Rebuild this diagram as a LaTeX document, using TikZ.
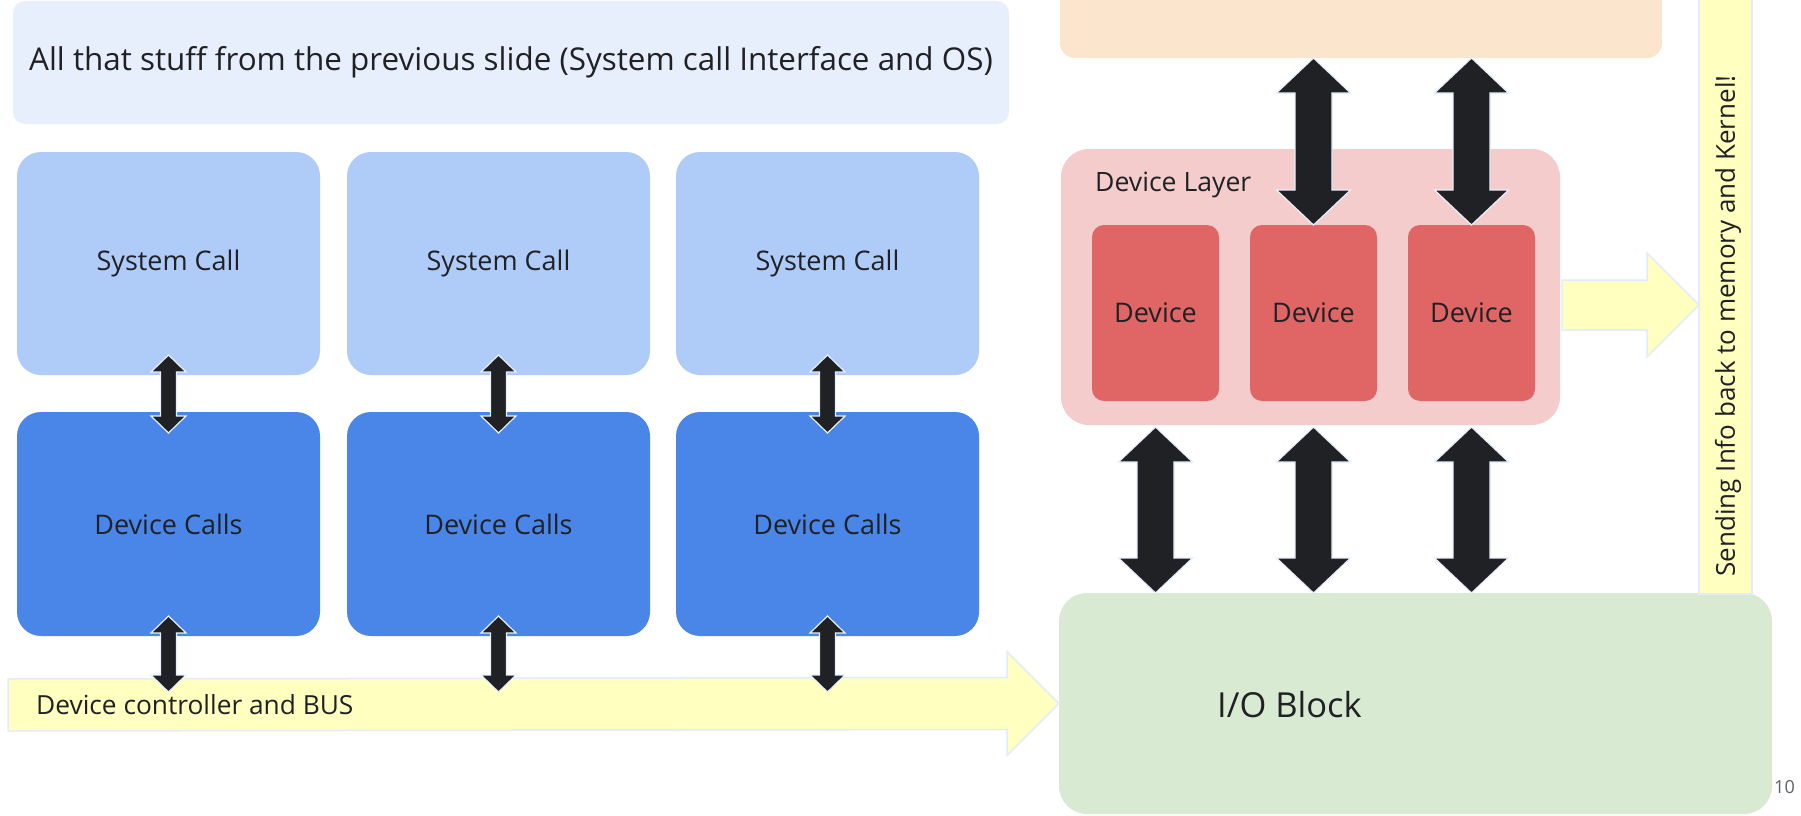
\documentclass[tikz,border=0pt]{standalone}
\usepackage{fontspec}
\setmainfont{Open Sans}
\usetikzlibrary{calc}
\definecolor{topbox}{HTML}{E8EFFC}
\definecolor{sysbox}{HTML}{AFCBF8}
\definecolor{devcall}{HTML}{4A86E8}
\definecolor{yel}{HTML}{FFFFC0}
\definecolor{yeledge}{HTML}{E3ECF9}
\definecolor{orangebox}{HTML}{FCE5CD}
\definecolor{layerbox}{HTML}{F4CCCC}
\definecolor{devbox}{HTML}{E06666}
\definecolor{iobox}{HTML}{D9EAD3}
\definecolor{blk}{HTML}{202124}
\definecolor{blkedge}{HTML}{E8F0FE}
\definecolor{txt}{HTML}{202124}
\definecolor{pagegray}{HTML}{5F6368}
\newcommand\dblarr[5]{%
\filldraw[blkarrow] (#1) -- ([xshift=#4,yshift=-#5]#1) -- ([xshift=#3,yshift=-#5]#1) -- ([xshift=#3,yshift=#5]#2) -- ([xshift=#4,yshift=#5]#2) -- (#2) -- ([xshift=-#4,yshift=#5]#2) -- ([xshift=-#3,yshift=#5]#2) -- ([xshift=-#3,yshift=-#5]#1) -- ([xshift=-#4,yshift=-#5]#1) -- cycle;}
\begin{document}
\begin{tikzpicture}[x=1pt,y=-1pt,
  box/.style={anchor=north west, inner sep=0pt, outer sep=0pt, text=txt, align=center},
  blkarrow/.style={fill=blk, draw=blkedge, line width=1.2pt, line join=miter},
  yelarrow/.style={fill=yel, draw=yeledge, line width=1.5pt},
  mid/.style={font=\fontsize{27}{32}\selectfont}]
\useasboundingbox (0,0) rectangle (1801,816);
\clip (0,0) rectangle (1801,816);
\fill[white] (0,0) rectangle (1801,816);

% top box
\node[box, fill=topbox, rounded corners=12pt, minimum width=996pt, minimum height=123pt,
  font=\fontsize{31.4}{36}\selectfont] (top) at (13,1) {All that stuff from the previous slide (System call Interface and OS)};

% system call boxes
\node[box, fill=sysbox, rounded corners=24pt, minimum width=303pt, minimum height=223pt, mid] (sc1) at (17,152) {System Call};
\node[box, fill=sysbox, rounded corners=24pt, minimum width=303pt, minimum height=223pt, mid] (sc2) at (347,152) {System Call};
\node[box, fill=sysbox, rounded corners=24pt, minimum width=303pt, minimum height=223pt, mid] (sc3) at (676,152) {System Call};

% device call boxes
\node[box, fill=devcall, rounded corners=24pt, minimum width=303pt, minimum height=224pt, mid] (dc1) at (17,412) {Device Calls};
\node[box, fill=devcall, rounded corners=24pt, minimum width=303pt, minimum height=224pt, mid] (dc2) at (347,412) {Device Calls};
\node[box, fill=devcall, rounded corners=24pt, minimum width=303pt, minimum height=224pt, mid] (dc3) at (676,412) {Device Calls};

% orange box (cut at top)
\node[box, fill=orangebox, rounded corners=15pt, minimum width=602pt, minimum height=98pt] (mem) at (1060,-40) {};

% device layer
\node[box, fill=layerbox, rounded corners=28pt, minimum width=499pt, minimum height=276pt] (layer) at (1061,149) {};
\node[anchor=west, inner sep=0pt, text=txt, font=\fontsize{26.6}{32}\selectfont] (layerlbl) at (1095,185) {Device Layer};
\node[box, fill=devbox, rounded corners=12pt, minimum width=127pt, minimum height=176pt, mid] (dev1) at (1092,225) {Device};
\node[box, fill=devbox, rounded corners=12pt, minimum width=127pt, minimum height=176pt, mid] (dev2) at (1250,225) {Device};
\node[box, fill=devbox, rounded corners=12pt, minimum width=127pt, minimum height=176pt, mid] (dev3) at (1408,225) {Device};

% I/O block
\node[box, fill=iobox, rounded corners=28pt, minimum width=713pt, minimum height=221pt] (io) at (1059,593) {};
\node[anchor=west, inner sep=0pt, text=txt, font=\fontsize{34.5}{40}\selectfont] (iolbl) at (1217,705) {I/O Block};

% vertical bar
\node[box, fill=yel, draw=yeledge, line width=1.5pt, minimum width=53pt, minimum height=614pt] (vbar) at (1699,-20) {};
\node[rotate=90, inner sep=0pt, text=txt, font=\fontsize{26}{31}\selectfont] (vbarlbl) at (1728,326) {Sending Info back to memory and Kernel!};

% page number
\node[anchor=east, inner sep=0pt, text=pagegray, font=\fontsize{18}{20}\selectfont] (pnum) at (1795,787) {10};

% bus arrow
\coordinate (bustail) at (8,705);
\coordinate (bustip) at (io.west);
\filldraw[yelarrow] ([yshift=26]bustail) -- ([xshift=-52,yshift=26]bustip) -- ([xshift=-52,yshift=52]bustip) -- (bustip)
  -- ([xshift=-52,yshift=-52]bustip) -- ([xshift=-52,yshift=-26]bustip) -- ([yshift=-26]bustail) -- cycle;
\node[anchor=west, inner sep=0pt, text=txt, font=\fontsize{26.3}{31}\selectfont] (buslbl) at (36,705) {Device controller and BUS};

% right arrow
\coordinate (rtail) at ([xshift=2,yshift=-18]layer.east);
\coordinate (rtip) at (vbar.west |- rtail);
\filldraw[yelarrow] ([yshift=25]rtail) -- ([xshift=-52,yshift=25]rtip) -- ([xshift=-52,yshift=52]rtip) -- (rtip)
  -- ([xshift=-52,yshift=-52]rtip) -- ([xshift=-52,yshift=-25]rtip) -- ([yshift=-25]rtail) -- cycle;

% small double arrows
\foreach \i in {1,2,3}{
  \coordinate (sa\i t) at ([yshift=20]sc\i.south);
  \coordinate (sa\i b) at ([yshift=-21]dc\i.north);
  \coordinate (sb\i t) at ([yshift=20]dc\i.south);
  \coordinate (sb\i b) at ([yshift=-56]dc\i.south);
  \dblarr{sa\i t}{sa\i b}{8}{17.5}{17}
  \dblarr{sb\i t}{sb\i b}{8}{17.5}{17}
}

% big arrows memory <-> devices
\foreach \i in {2,3}{
  \coordinate (ba\i t) at (dev\i.north |- mem.south);
  \coordinate (ba\i b) at (dev\i.north);
  \dblarr{ba\i t}{ba\i b}{18.5}{37}{35}
}
% big arrows device layer <-> io
\foreach \i in {1,2,3}{
  \coordinate (bb\i t) at ([yshift=-2]dev\i.north |- layer.south);
  \coordinate (bb\i b) at (dev\i.north |- io.north);
  \dblarr{bb\i t}{bb\i b}{18.5}{37}{35}
}
\end{tikzpicture}
\end{document}
